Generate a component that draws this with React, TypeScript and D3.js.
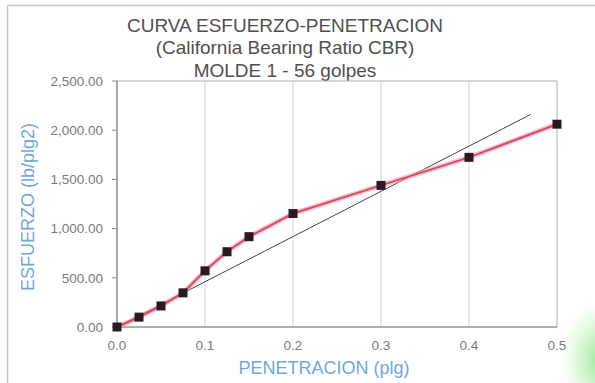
import React from "react";
import * as d3 from "d3";

const penetration = [0, 0.025, 0.05, 0.075, 0.1, 0.125, 0.15, 0.2, 0.3, 0.4, 0.5];
const stress = [0, 100, 214, 347, 571, 765, 918, 1153, 1439, 1724, 2061];
const tangentX = [0, 0.47];
const tangentY = [0, 2160];
const xTicks = [0, 0.1, 0.2, 0.3, 0.4, 0.5];
const yTicks = [0, 500, 1000, 1500, 2000, 2500];
const titleLines = ["CURVA ESFUERZO-PENETRACION", "(California Bearing Ratio CBR)", "MOLDE 1 - 56 golpes"];
const xTitle = "PENETRACION (plg)";
const yTitle = "ESFUERZO (lb/plg2)";

export default function App() {
  const W = 595, H = 383;
  const left = 117, right = 557, top = 81, bottom = 327;
  const x = d3.scaleLinear().domain([0, 0.5]).range([left, right]);
  const y = d3.scaleLinear().domain([0, 2500]).range([bottom, top]);
  const pts = penetration.map((p, i) => [p, stress[i]] as [number, number]);
  const line = d3.line<[number, number]>().x(d => x(d[0])).y(d => y(d[1]));
  const tangent = tangentX.map((p, i) => [p, tangentY[i]] as [number, number]);
  const font = "'Liberation Sans', Arial, sans-serif";
  const fmtY = d3.format(",.2f");
  const fmtX = d3.format(".1f");
  return (
    <svg width={W} height={H} style={{ position: "absolute", left: 0, top: 0, background: "#fff" }} fontFamily={font}>
      <defs>
        <radialGradient id="gr" cx="0.5" cy="0.5" r="0.5">
          <stop offset="0%" stopColor="#7fe07a" stopOpacity={0.8} />
          <stop offset="100%" stopColor="#b8f0b0" stopOpacity={0} />
        </radialGradient>
      </defs>
      <rect x={0} y={0} width={W} height={H} fill="#fff" />
      <ellipse cx={600} cy={360} rx={40} ry={60} fill="url(#gr)" />
      <rect x={7.5} y={5.5} width={W} height={H} fill="none" stroke="#c8c8c8" strokeWidth={1.5} />
      {titleLines.map((t, i) => (
        <text key={i} x={285} y={25 + i * 22.5} dy="0.35em" textAnchor="middle" fontSize={19} fill="#505050">{t}</text>
      ))}
      {xTicks.slice(1, -1).map(t => (
        <line key={t} x1={x(t)} x2={x(t)} y1={top} y2={bottom} stroke="#d4d4d4" strokeWidth={1} />
      ))}
      <rect x={left} y={top} width={right - left} height={bottom - top} fill="none" stroke="#b0b0b0" strokeWidth={1} />
      <line x1={left} x2={left} y1={top} y2={bottom} stroke="#888" strokeWidth={1.2} />
      <line x1={left} x2={right} y1={bottom} y2={bottom} stroke="#888" strokeWidth={1.2} />
      {yTicks.map(t => (
        <g key={t}>
          <line x1={left - 5} x2={left} y1={y(t)} y2={y(t)} stroke="#888" />
          <text x={103} y={y(t)} dy="0.35em" textAnchor="end" fontSize={13.5} fill="#7a7a7a">{fmtY(t)}</text>
        </g>
      ))}
      {xTicks.map(t => (
        <text key={t} x={x(t)} y={345} dy="0.35em" textAnchor="middle" fontSize={13.5} fill="#7a7a7a">{fmtX(t)}</text>
      ))}
      <text x={324} y={368} dy="0.35em" textAnchor="middle" fontSize={18} fill="#6fa8dc">{xTitle}</text>
      <text transform={`translate(28,207) rotate(-90)`} dy="0.35em" textAnchor="middle" fontSize={18} fill="#6fa8dc">{yTitle}</text>
      <path d={line(tangent) || ""} fill="none" stroke="#3d4a42" strokeWidth={1} />
      <path d={line(pts) || ""} fill="none" stroke="#f0a0b0" strokeWidth={5} strokeOpacity={0.6} />
      <path d={line(pts) || ""} fill="none" stroke="#dc4a66" strokeWidth={2} />
      {pts.map((d, i) => (
        <rect key={i} x={x(d[0]) - 4.5} y={y(d[1]) - 4.5} width={9} height={9} fill="#2a1a20" />
      ))}
    </svg>
  );
}
